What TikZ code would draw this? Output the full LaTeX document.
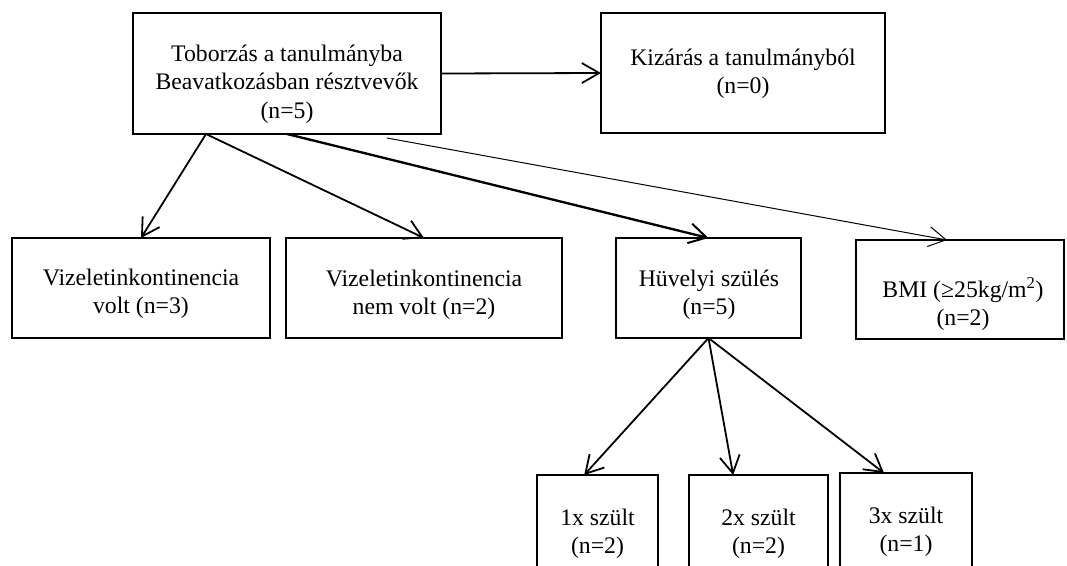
\documentclass[tikz,border=0pt]{standalone}
\usepackage{fontspec}
\setmainfont{Liberation Serif}
\usetikzlibrary{arrows.meta}
\begin{document}
\begin{tikzpicture}[x=0.75pt,y=-0.75pt,
  box/.style={draw,line width=1.6pt,inner sep=0pt,outer sep=0pt},
  txt/.style={align=center,inner sep=0pt,font=\fontsize{17.8pt}{20.8pt}\selectfont},
  conn/.style={line width=1.35pt,-{Straight Barb[length=13pt,width=15pt,line width=1.35pt]}},
  heavy/.style={line width=1.75pt,-{Straight Barb[length=13pt,width=15pt,line width=1.5pt]}},
  thin/.style={line width=0.75pt,-{Straight Barb[length=13pt,width=15pt,line width=0.75pt]}}
]
\useasboundingbox (0,0) rectangle (1067,565);
% boxes
\node[box,minimum width=231pt,minimum height=90.75pt] (top) at (287,73.5) {};
\node[box,minimum width=213pt,minimum height=90pt] (kiz) at (743,73) {};
\node[box,minimum width=193.5pt,minimum height=75pt] (a) at (141,288) {};
\node[box,minimum width=207pt,minimum height=75pt] (b) at (424,288) {};
\node[box,minimum width=138.75pt,minimum height=75pt] (huv) at (708.5,288) {};
\node[box,minimum width=156pt,minimum height=74.25pt] (bmi) at (960,289.5) {};
\node[box,minimum width=90.75pt,minimum height=93.75pt] (s1) at (597.5,537.5) {};
\node[box,minimum width=104.25pt,minimum height=93.75pt] (s2) at (758.5,537.5) {};
\node[box,minimum width=99pt,minimum height=95.25pt] (s3) at (906,536.5) {};
% texts
\node[txt,font=\fontsize{17.8pt}{21.4pt}\selectfont] (ttop) at (287,84) {Toborzás a tanulmányba\\Beavatkozásban résztvevők\\(n=5)};
\node[txt] (tkiz) at (743,74) {Kizárás a tanulmányból\\(n=0)};
\node[txt] (ta) at (141,294) {Vizeletinkontinencia\\volt (n=3)};
\node[txt] (tb) at (424,295) {Vizeletinkontinencia\\nem volt (n=2)};
\node[txt] (thuv) at (709,295) {Hüvelyi szülés\\(n=5)};
\node[txt] (tbmi) at (963,304) {BMI (≥25kg/m\textsuperscript{2})\\(n=2)};
\node[txt] (ts1) at (597.5,534) {1x szült\\(n=2)};
\node[txt] (ts2) at (758.5,534) {2x szült\\(n=2)};
\node[txt] (ts3) at (906,532) {3x szült\\(n=1)};
% connectors
\draw[conn] (top.east) -- (kiz.west);
\draw[conn] ([xshift=54.75pt]top.south west) -- (a.north);
\draw[conn] ([xshift=54.75pt]top.south west) -- (b.north);
\draw[heavy] (top.south) -- (huv.north);
\draw[thin] ([xshift=-40.5pt,yshift=-3pt]top.south east) -- ([xshift=-9.75pt]bmi.north);
\draw[conn] (huv.south) -- ([xshift=-10pt]s1.north);
\draw[conn] (huv.south) -- ([xshift=-19pt]s2.north);
\draw[conn] (huv.south) -- ([xshift=-16.5pt]s3.north);
\end{tikzpicture}
\end{document}
